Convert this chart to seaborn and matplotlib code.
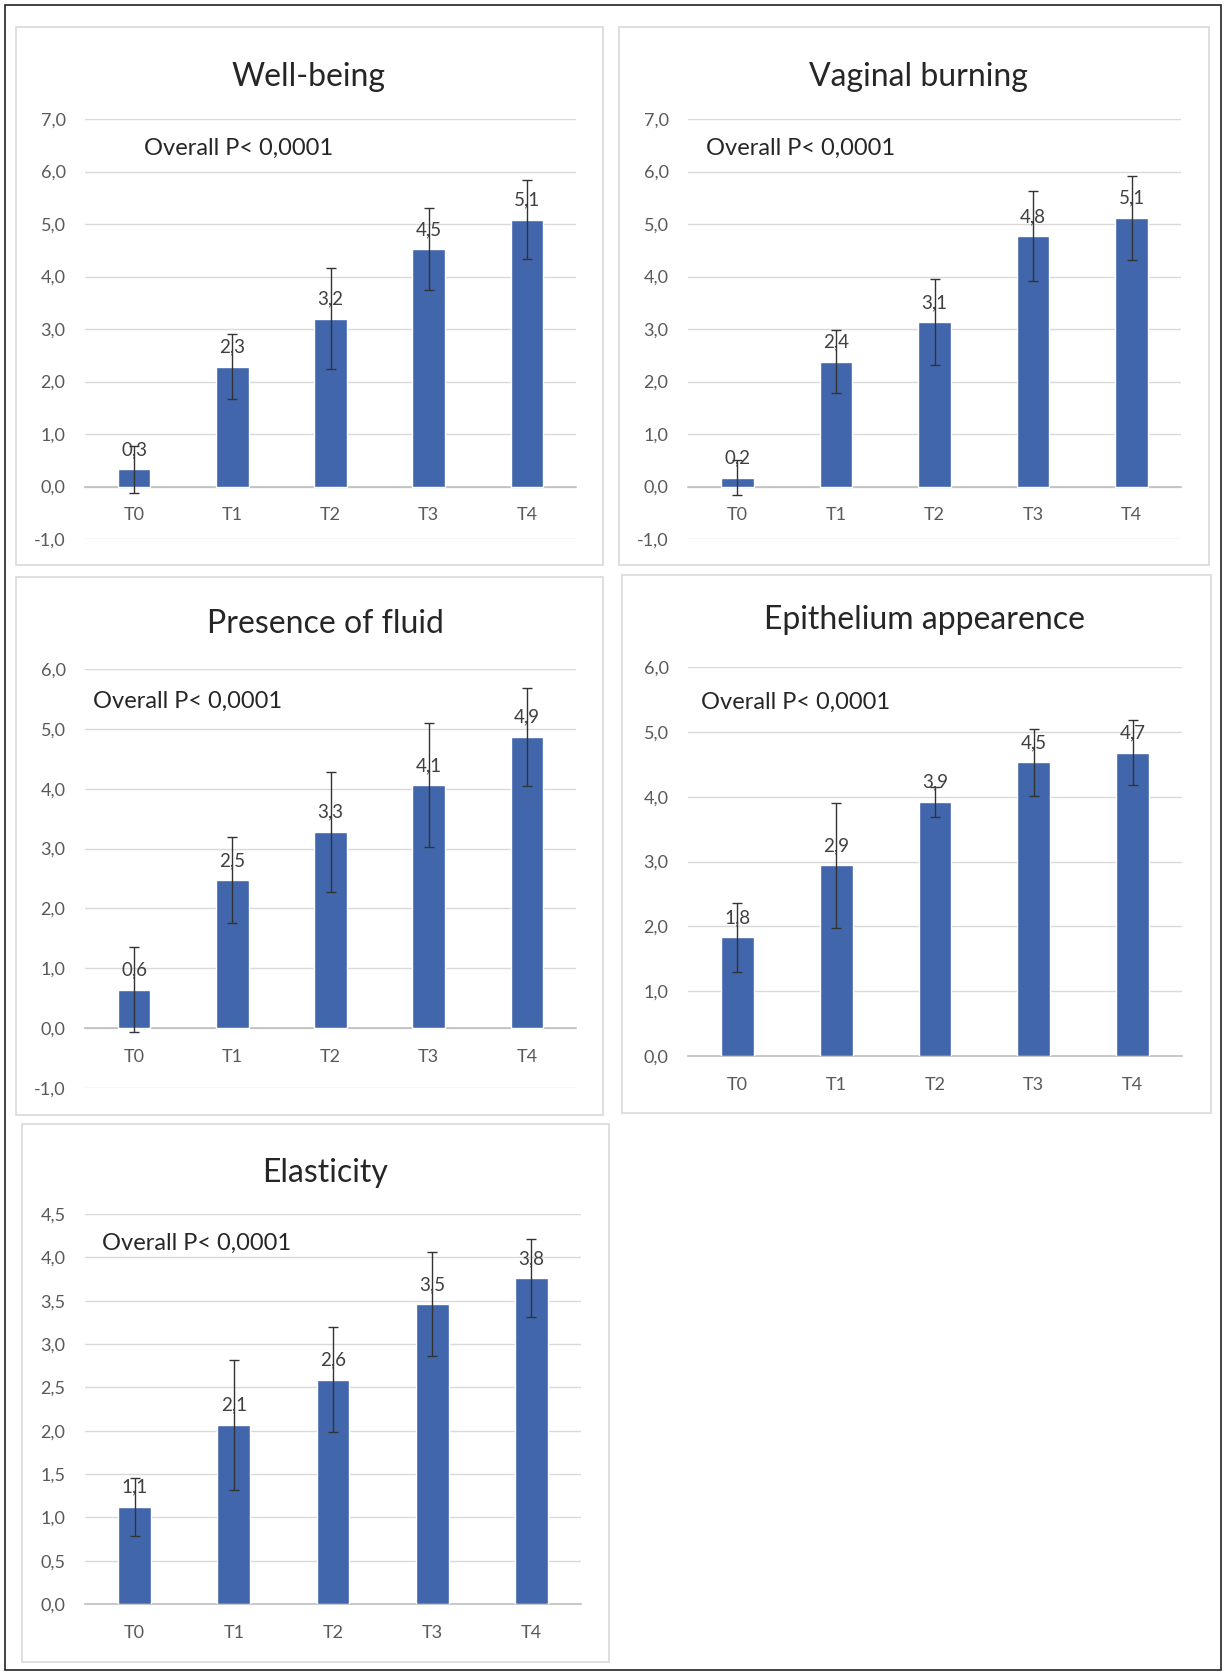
import numpy as np
import pandas as pd
import matplotlib
matplotlib.use('Agg')
import matplotlib.pyplot as plt
from matplotlib.patches import Rectangle
from matplotlib.ticker import FuncFormatter, MultipleLocator
import seaborn as sns

sns.set_theme(style='white')
plt.rcParams['font.family'] = ['Lato', 'DejaVu Sans']

### Data
times = ['T0', 'T1', 'T2', 'T3', 'T4']

wellbeing = [0.33, 2.28, 3.20, 4.52, 5.08]
wellbeing_err = [0.45, 0.62, 0.97, 0.78, 0.75]

burning = [0.17, 2.38, 3.13, 4.77, 5.12]
burning_err = [0.34, 0.60, 0.82, 0.86, 0.80]

fluid = [0.64, 2.47, 3.28, 4.06, 4.87]
fluid_err = [0.71, 0.72, 1.00, 1.03, 0.82]

epithelium = [1.83, 2.94, 3.92, 4.53, 4.68]
epithelium_err = [0.53, 0.97, 0.23, 0.52, 0.50]

elasticity = [1.12, 2.07, 2.59, 3.46, 3.76]
elasticity_err = [0.33, 0.75, 0.61, 0.60, 0.45]

p_text = 'Overall P< 0,0001'

### Layout (pixels)
W, H = 1226, 1673
BLUE = '#4266AC'

# title, values, errors, ylim, ystep, panel box, axes box, text pos, title pos
panels = [
    ('Well-being', wellbeing, wellbeing_err, (-1, 7), 1.0,
     (16, 27, 603, 565), (85, 119, 576, 539), (0.12, 0.93), (309, 77)),
    ('Vaginal burning', burning, burning_err, (-1, 7), 1.0,
     (619, 27, 1209, 565), (688, 119, 1181, 539), (0.037, 0.93), (918, 77)),
    ('Presence of fluid', fluid, fluid_err, (-1, 6), 1.0,
     (16, 577, 603, 1115), (85, 669, 576, 1088), (0.016, 0.924), (325, 624)),
    ('Epithelium appearence', epithelium, epithelium_err, (0, 6), 1.0,
     (622, 575, 1211, 1113), (688, 667, 1182, 1056), (0.026, 0.91), (924, 620)),
    ('Elasticity', elasticity, elasticity_err, (0, 4.5), 0.5,
     (22, 1124, 609, 1662), (85, 1214, 581, 1604), (0.034, 0.926), (325, 1173)),
]

fig = plt.figure(figsize=(W / 100, H / 100), dpi=100)
fig.patch.set_facecolor('white')

def fx(px):
    return px / W

def fy(py):
    return 1 - py / H

# outer frame
fig.patches.append(Rectangle((fx(5), fy(1670)), fx(1221) - fx(5), fy(5) - fy(1670),
                             transform=fig.transFigure, fill=False,
                             edgecolor='#222222', linewidth=1.2))

comma = FuncFormatter(lambda v, pos: f'{v:.1f}'.replace('.', ','))

for title, vals, errs, ylim, ystep, pbox, abox, tpos, ttl in panels:
    x0, y0, x1, y1 = pbox
    fig.patches.append(Rectangle((fx(x0), fy(y1)), fx(x1) - fx(x0), fy(y0) - fy(y1),
                                 transform=fig.transFigure, fill=False,
                                 edgecolor='#D9D9D9', linewidth=1.2))
    a0, b0, a1, b1 = abox
    ax = fig.add_axes([fx(a0), fy(b1), fx(a1) - fx(a0), fy(b0) - fy(b1)])
    df = pd.DataFrame({'time': times, 'value': vals})
    sns.barplot(data=df, x='time', y='value', color=BLUE, saturation=1,
                width=0.33, errorbar=None, ax=ax, zorder=3)
    ax.errorbar(np.arange(len(times)), vals, yerr=errs, fmt='none',
                ecolor='#333333', elinewidth=1, capsize=3.5, capthick=1, zorder=4)
    for i, v in enumerate(vals):
        ax.annotate(f'{v:.1f}'.replace('.', ','), (i, v), xytext=(0, 8),
                    textcoords='offset points', ha='center', va='bottom',
                    fontsize=13.5, color='#404040', zorder=5)
    ax.set_ylim(*ylim)
    ax.set_xlim(-0.5, 4.5)
    ax.yaxis.set_major_locator(MultipleLocator(ystep))
    ax.yaxis.set_major_formatter(comma)
    ax.grid(axis='y', color='#D9D9D9', linewidth=1, zorder=0)
    ax.set_axisbelow(True)
    for s in ['top', 'right', 'left']:
        ax.spines[s].set_visible(False)
    ax.spines['bottom'].set_position(('data', 0))
    ax.spines['bottom'].set_color('#BFBFBF')
    ax.spines['bottom'].set_linewidth(1.2)
    ax.tick_params(axis='both', length=0, labelsize=13, labelcolor='#595959')
    ax.tick_params(axis='y', pad=14)
    ax.tick_params(axis='x', pad=15)
    ax.set_xlabel('')
    ax.set_ylabel('')
    ax.text(tpos[0], tpos[1], p_text, transform=ax.transAxes, ha='left', va='center',
            fontsize=17, color='#262626')
    fig.text(fx(ttl[0]), fy(ttl[1]), title, ha='center', va='center',
             fontsize=23, color='#262626')

fig.savefig('out.png', dpi=100, facecolor='white')
